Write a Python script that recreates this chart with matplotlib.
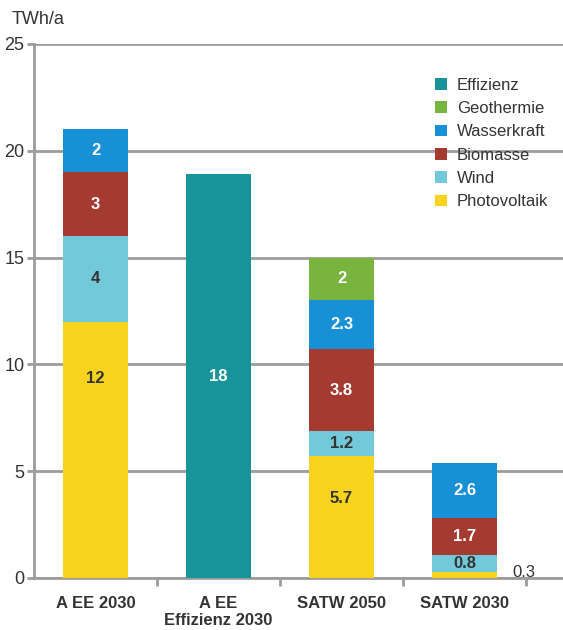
import matplotlib.pyplot as plt
from matplotlib.patches import Patch
from matplotlib import font_manager
import numpy as np

# data
categories = ["A EE 2030", "A EE\nEffizienz 2030", "SATW 2050", "SATW 2030"]
series = ["Photovoltaik", "Wind", "Biomasse", "Wasserkraft", "Geothermie", "Effizienz"]
values = {
    "Photovoltaik": [12, 0, 5.7, 0.3],
    "Wind":         [4, 0, 1.2, 0.8],
    "Biomasse":     [3, 0, 3.8, 1.7],
    "Wasserkraft":  [2, 0, 2.3, 2.6],
    "Geothermie":   [0, 0, 2, 0],
    "Effizienz":    [0, 18.9, 0, 0],
}
labels = {
    "Photovoltaik": ["12", "", "5.7", "0.3"],
    "Wind":         ["4", "", "1.2", "0.8"],
    "Biomasse":     ["3", "", "3.8", "1.7"],
    "Wasserkraft":  ["2", "", "2.3", "2.6"],
    "Geothermie":   ["", "", "2", ""],
    "Effizienz":    ["", "18", "", ""],
}
colors = {
    "Effizienz": "#17939a",
    "Geothermie": "#78b43e",
    "Wasserkraft": "#1790d6",
    "Biomasse": "#a53a31",
    "Wind": "#72c9da",
    "Photovoltaik": "#f8d31d",
}
text_colors = {
    "Effizienz": "white", "Geothermie": "white", "Wasserkraft": "white",
    "Biomasse": "white", "Wind": "#333333", "Photovoltaik": "#333333",
}
legend_order = ["Effizienz", "Geothermie", "Wasserkraft", "Biomasse", "Wind", "Photovoltaik"]

# pick a narrow font if one is around
names = {f.name for f in font_manager.fontManager.ttflist}
narrow = [n for n in ["Liberation Sans Narrow", "DejaVu Sans Condensed"] if n in names]
plt.rcParams['font.family'] = narrow + ['Liberation Sans', 'DejaVu Sans']
plt.rcParams['font.stretch'] = 'condensed'
print(sorted(n for n in names if 'Narrow' in n or 'Condensed' in n))

grid_c = "#9c9c9c"
txt_c = "#333333"

fig = plt.figure(figsize=(5.63, 6.30), dpi=100)
ax = fig.add_axes([34 / 563, 1 - 578 / 630, 1 - 34 / 563, (578 - 44) / 630])
ax.set_xlim(-0.5, 3.8)
ax.set_ylim(0, 25)

x = np.arange(len(categories))
bottom = np.zeros(len(categories))
for s in series:
    v = np.array(values[s], dtype=float)
    ax.bar(x, v, bottom=bottom, width=0.53, color=colors[s], zorder=3)
    for i, (h, lab) in enumerate(zip(v, labels[s])):
        if not lab:
            continue
        if s == "Photovoltaik" and h < 1:
            ax.text(i + 0.48, h * 0.9, lab, ha="center", va="center",
                    fontsize=12, color=txt_c, zorder=4)
            continue
        if s == "Photovoltaik":
            y = bottom[i] + min(h * 0.78, h - 2)
        else:
            y = bottom[i] + h / 2
        ax.text(i, y, lab, ha="center", va="center", fontsize=12,
                fontweight="bold", color=text_colors[s], zorder=4)
    bottom += v

# gridlines and axes
ax.set_yticks([0, 5, 10, 15, 20, 25])
ax.grid(axis="y", color=grid_c, linewidth=2, zorder=1)
for sp in ["top", "right"]:
    ax.spines[sp].set_visible(False)
ax.spines["left"].set_color(grid_c)
ax.spines["left"].set_linewidth(2)
ax.spines["bottom"].set_color(grid_c)
ax.spines["bottom"].set_linewidth(2)
ax.tick_params(axis="y", length=5, width=2, color=grid_c, labelsize=13,
               labelcolor=txt_c, pad=2)
ax.set_xticks(x)
ax.set_xticklabels(categories, fontsize=12, fontweight="bold", color=txt_c)
ax.tick_params(axis="x", length=0, pad=13)
ax.set_xticks([0.5, 1.5, 2.5, 3.5], minor=True)
ax.tick_params(axis="x", which="minor", length=6, width=2, color=grid_c)

fig.text(12 / 563, 1 - 20 / 630, "TWh/a", fontsize=13, color=txt_c,
         ha="left", va="center")

handles = [Patch(facecolor=colors[s], label=s) for s in legend_order]
ax.legend(handles=handles, loc="upper left", bbox_to_anchor=(0.73, 0.965),
          frameon=False, fontsize=12, handlelength=0.7, handleheight=0.7,
          handletextpad=0.6, labelspacing=0.5, labelcolor=txt_c)

fig.savefig("out.png", dpi=100)
